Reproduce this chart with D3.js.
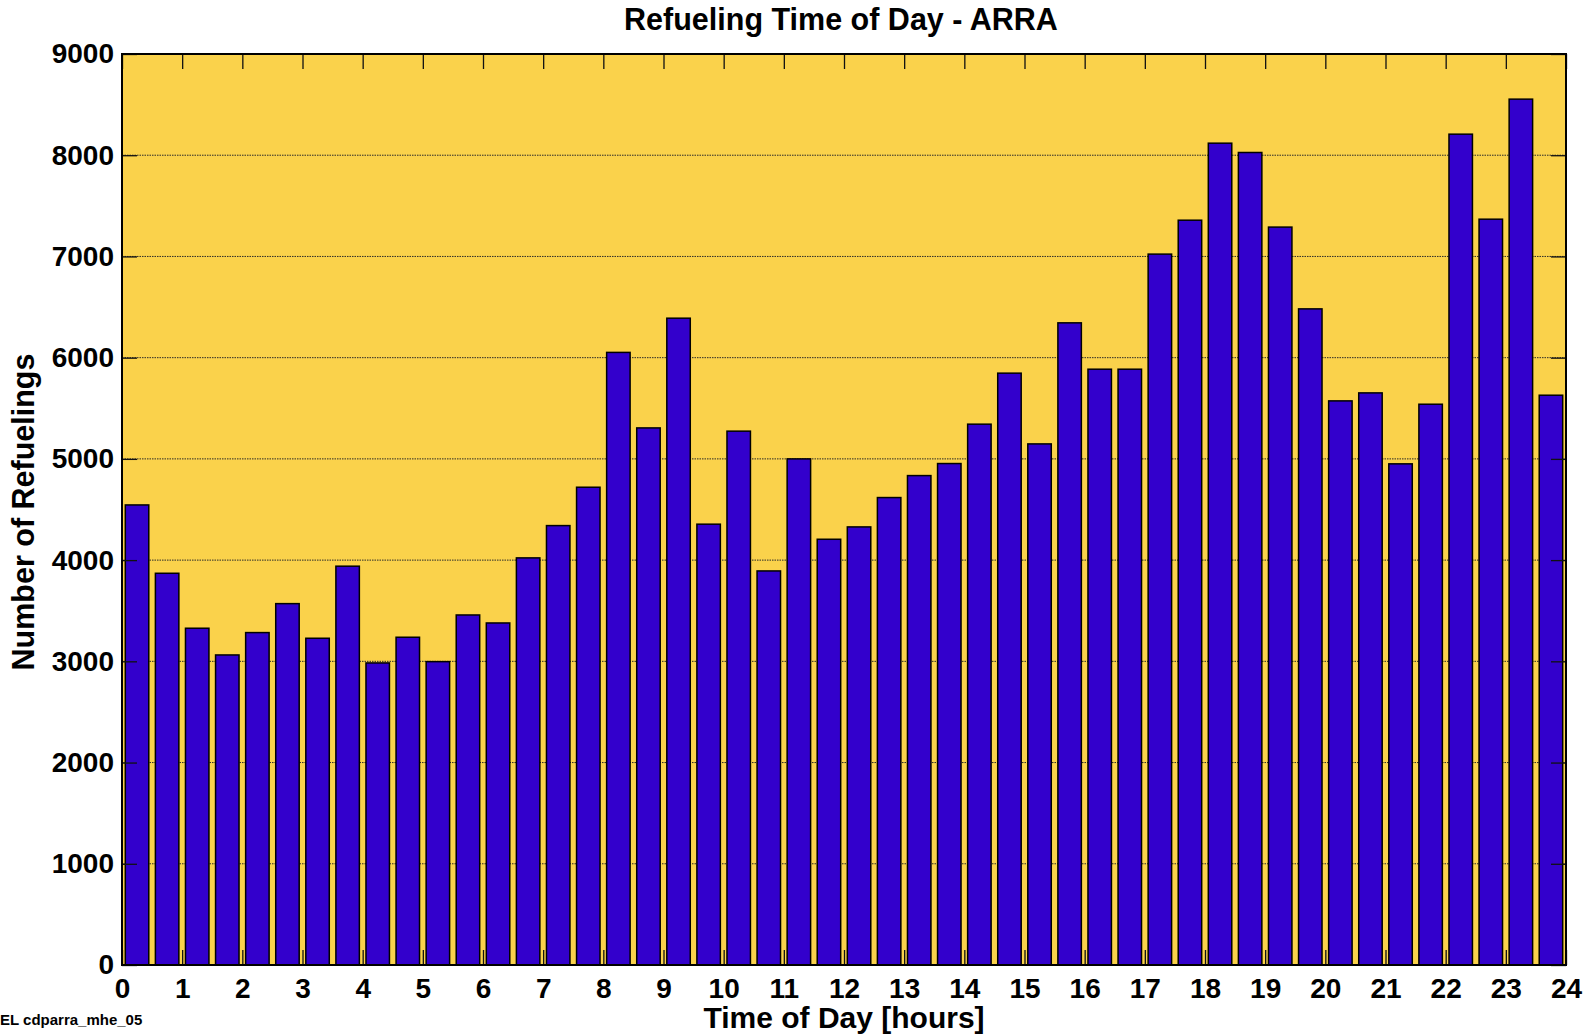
<!DOCTYPE html>
<html>
<head>
<meta charset="utf-8">
<script src="https://cdn.jsdelivr.net/npm/d3@7"></script>
<style>
  html, body { margin: 0; padding: 0; background: #ffffff; }
  svg { display: block; }
  text { font-family: 'Liberation Sans', Arial, Helvetica, sans-serif; font-weight: bold; fill: #000; }
</style>
</head>
<body>
<div id="chart"></div>
<script>
  // half-hour bins, 0:00 .. 23:30
  var BIN_VALUES = [
    4545, 3870, 3327, 3063, 3284, 3570, 3228, 3940, 2984, 3238,
    2997, 3458, 3379, 4022, 4341, 4720, 6052, 5306, 6390, 4355,
    5274, 3893, 5000, 4206, 4328, 4618, 4835, 4954, 5343, 5847,
    5148, 6344, 5886, 5886, 7023, 7358, 8119, 8027, 7290, 6482,
    5573, 5652, 4951, 5540, 8208, 7368, 8554, 5629
  ];
  var HOUR_TICKS = d3.range(0, 25);
  var COUNT_TICKS = d3.range(0, 10000, 1000);
  var GRID_TICKS = d3.range(1000, 9000, 1000);

  var TITLE = 'Refueling Time of Day - ARRA';
  var X_LABEL = 'Time of Day [hours]';
  var Y_LABEL = 'Number of Refuelings';
  var FOOTNOTE = 'EL cdparra_mhe_05';

  var COLOR_BG   = '#fad24b';
  var COLOR_BAR  = '#3300cc';
  var WIDTH = 1593, HEIGHT = 1036;
  var PLOT = { left: 122, right: 1566, top: 54, bottom: 965 };
  var TICK_LEN = 15;

  var svg = d3.select('#chart').append('svg')
    .attr('width', WIDTH)
    .attr('height', HEIGHT);

  var x = d3.scaleLinear().domain([0, 24]).range([PLOT.left, PLOT.right]);
  var xBand = d3.scaleBand()
    .domain(d3.range(BIN_VALUES.length))
    .range([PLOT.left, PLOT.right])
    .paddingInner(0.22)
    .paddingOuter(0.11);
  var y = d3.scaleLinear().domain([0, 9000]).range([PLOT.bottom, PLOT.top]);

  // plot background
  svg.append('rect')
    .attr('x', PLOT.left).attr('y', PLOT.top)
    .attr('width', PLOT.right - PLOT.left)
    .attr('height', PLOT.bottom - PLOT.top)
    .attr('fill', COLOR_BG);

  // dotted horizontal grid
  svg.append('g').attr('class', 'grid')
    .selectAll('line').data(GRID_TICKS).enter().append('line')
    .attr('x1', PLOT.left).attr('x2', PLOT.right)
    .attr('y1', function (d) { return y(d); })
    .attr('y2', function (d) { return y(d); })
    .attr('stroke', '#2a2a2a')
    .attr('stroke-width', 1)
    .attr('stroke-dasharray', '1.5,1');

  // bars
  svg.append('g').attr('class', 'bars')
    .selectAll('rect').data(BIN_VALUES).enter().append('rect')
    .attr('x', function (d, i) { return xBand(i); })
    .attr('width', xBand.bandwidth())
    .attr('y', function (d) { return y(d); })
    .attr('height', function (d) { return y(0) - y(d); })
    .attr('fill', COLOR_BAR)
    .attr('stroke', '#000')
    .attr('stroke-width', 1.5);

  function styleAxis(g, fontSize) {
    g.select('.domain').remove();
    g.selectAll('.tick line').attr('stroke', '#111').attr('stroke-width', 1.3);
    g.selectAll('.tick text')
      .attr('font-size', fontSize + 'px')
      .attr('font-family', "'Liberation Sans', Arial, sans-serif")
      .attr('font-weight', 'bold')
      .attr('fill', '#000');
  }

  svg.append('g')
    .attr('transform', 'translate(0,' + PLOT.bottom + ')')
    .call(d3.axisBottom(x).tickValues(HOUR_TICKS).tickSize(-TICK_LEN).tickPadding(13).tickFormat(d3.format('d')))
    .call(styleAxis, 28);

  svg.append('g')
    .attr('transform', 'translate(0,' + PLOT.top + ')')
    .call(d3.axisTop(x).tickValues(HOUR_TICKS).tickSize(-TICK_LEN).tickFormat(''))
    .call(styleAxis, 28);

  svg.append('g')
    .attr('transform', 'translate(' + PLOT.left + ',0)')
    .call(d3.axisLeft(y).tickValues(COUNT_TICKS).tickSize(-TICK_LEN).tickPadding(8).tickFormat(d3.format('d')))
    .call(styleAxis, 28);

  svg.append('g')
    .attr('transform', 'translate(' + PLOT.right + ',0)')
    .call(d3.axisRight(y).tickValues(COUNT_TICKS).tickSize(-TICK_LEN).tickFormat(''))
    .call(styleAxis, 28);

  // frame
  svg.append('rect')
    .attr('x', PLOT.left).attr('y', PLOT.top)
    .attr('width', PLOT.right - PLOT.left)
    .attr('height', PLOT.bottom - PLOT.top)
    .attr('fill', 'none')
    .attr('stroke', '#000')
    .attr('stroke-width', 2);

  // texts
  svg.append('text')
    .attr('x', 841).attr('y', 30)
    .attr('text-anchor', 'middle')
    .attr('font-size', '30.5px')
    .text(TITLE);

  svg.append('text')
    .attr('x', (PLOT.left + PLOT.right) / 2).attr('y', 1028)
    .attr('text-anchor', 'middle')
    .attr('font-size', '30px')
    .text(X_LABEL);

  svg.append('text')
    .attr('transform', 'translate(34,512) rotate(-90)')
    .attr('text-anchor', 'middle')
    .attr('font-size', '30.5px')
    .text(Y_LABEL);

  svg.append('text')
    .attr('x', 0).attr('y', 1025)
    .attr('font-size', '15px')
    .text(FOOTNOTE);
</script>
</body>
</html>
